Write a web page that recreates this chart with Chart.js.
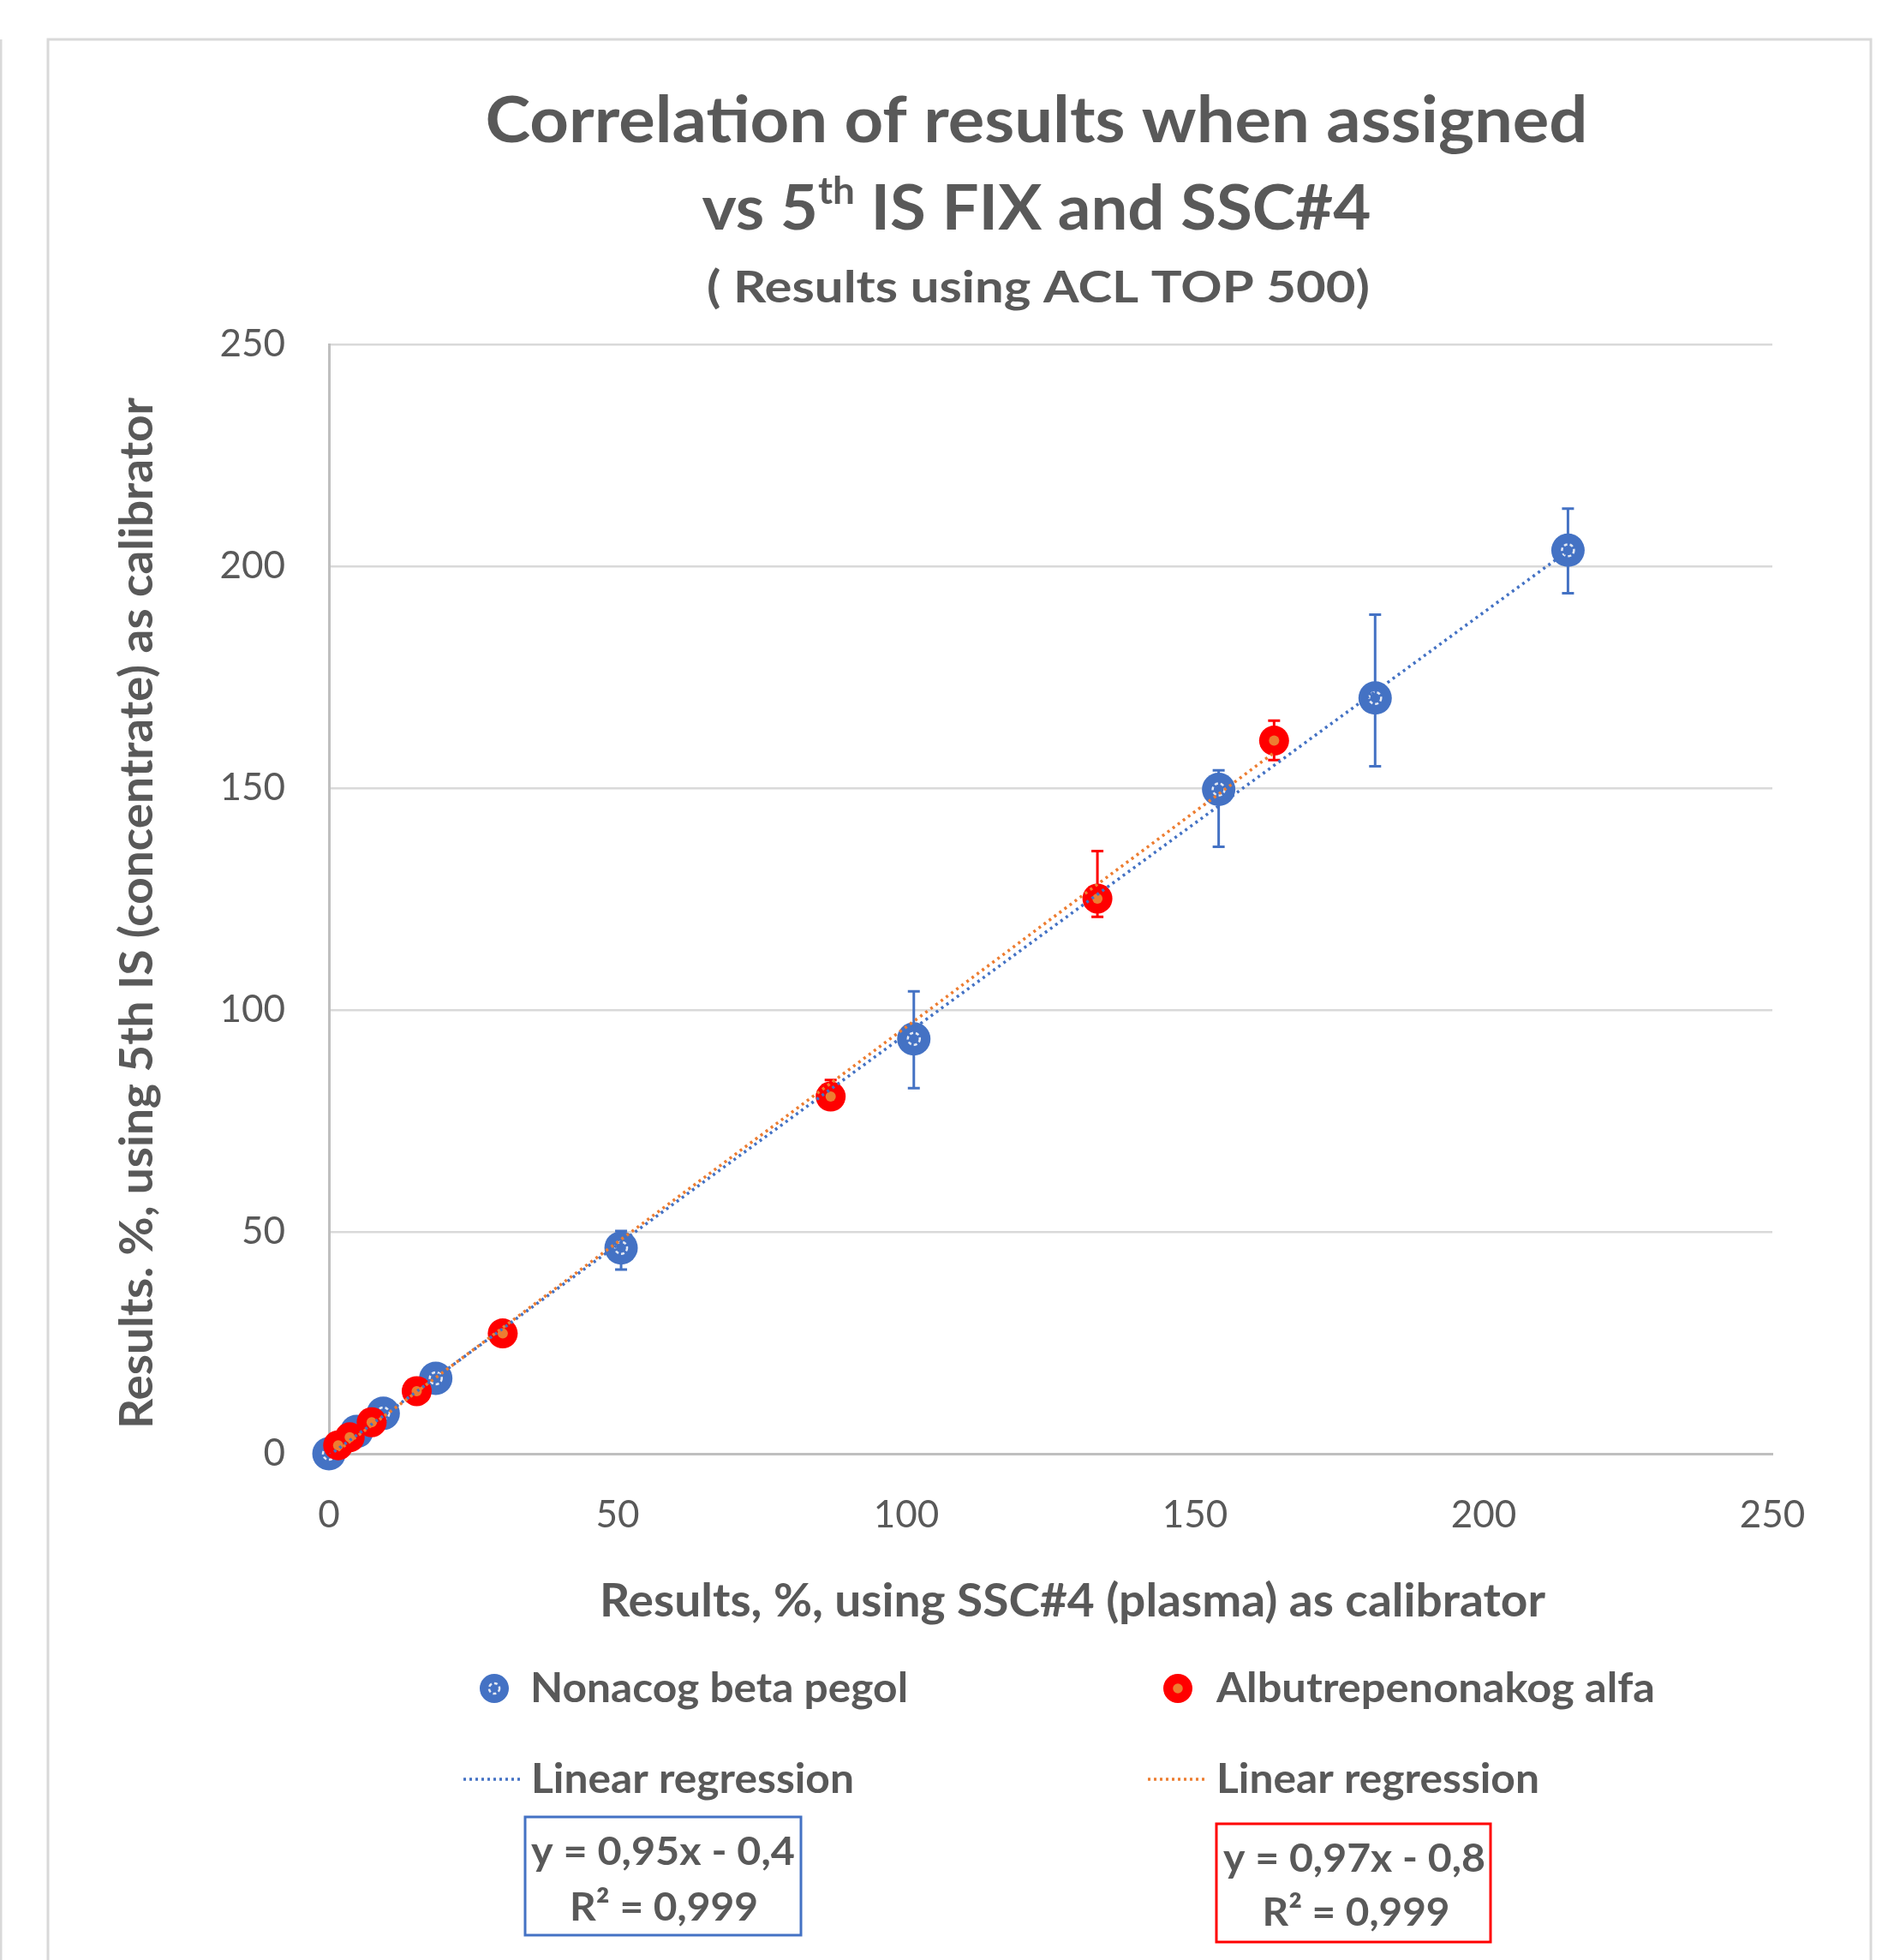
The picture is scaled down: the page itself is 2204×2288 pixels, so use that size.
<!DOCTYPE html>
<html>
<head>
<meta charset="utf-8">
<style>
  html, body { margin: 0; padding: 0; background: #fff; }
  canvas { display: block; }
</style>
<script src="https://cdn.jsdelivr.net/npm/chart.js@4.4.1/dist/chart.umd.min.js"></script>
</head>
<body>
<canvas id="chart" width="2204" height="2288" style="width:2204px;height:2288px"></canvas>
<script>
// values
const axisTicks = [0, 50, 100, 150, 200, 250];

const nonacogX = [0, 4.8, 9.4, 18.5, 50.6, 101.3, 154.1, 181.2, 214.6];
const nonacogY = [0, 5.0, 9.1, 17.0, 46.4, 93.5, 149.7, 170.3, 203.6];
const nonacogLow = [0, 5.0, 9.1, 17.0, 41.5, 82.4, 136.8, 154.9, 193.9];
const nonacogHigh = [0, 5.0, 9.1, 17.0, 50.2, 104.2, 154.0, 189.1, 213.0];

const albuX = [1.6, 3.6, 7.4, 15.2, 30.1, 86.9, 133.1, 163.7];
const albuY = [1.9, 3.7, 7.1, 14.1, 27.1, 80.5, 125.1, 160.7];
const albuLow = [1.9, 3.7, 7.1, 14.1, 27.1, 78.6, 121.0, 156.3];
const albuHigh = [1.9, 3.7, 7.1, 14.1, 27.1, 84.2, 135.8, 165.2];

// trend line equations shown on the chart
const nonacogFit = { slope: 0.95, intercept: -0.4, r2: '0,999' };
const albuFit = { slope: 0.97, intercept: -0.8, r2: '0,999' };

const BLUE = '#4472C4';
const RED = '#FF0000';
const ORANGE = '#ED7D31';
const TEXT = '#595959';
const FONT = 'Lato';

const points = (xs, ys) => xs.map((x, i) => ({ x, y: ys[i] }));
const fitLine = (xs, fit) => {
  const lo = Math.min(...xs), hi = Math.max(...xs);
  return [lo, hi].map(x => ({ x, y: fit.slope * x + fit.intercept }));
};

function drawText(ctx, text, x, y, size, weight, align, width) {
  ctx.save();
  ctx.font = `${weight} ${size}px ${FONT}`;
  const w = ctx.measureText(text).width;
  const sx = width ? width / w : 1;
  ctx.translate(x, y);
  ctx.scale(sx, 1);
  ctx.textAlign = align;
  ctx.textBaseline = 'alphabetic';
  ctx.fillStyle = TEXT;
  ctx.fillText(text, 0, 0);
  ctx.restore();
}

function blueMarker(ctx, x, y, r) {
  ctx.save();
  ctx.beginPath();
  ctx.arc(x, y, r, 0, Math.PI * 2);
  ctx.fillStyle = BLUE;
  ctx.fill();
  ctx.beginPath();
  ctx.arc(x, y, r * 0.36, 0, Math.PI * 2);
  ctx.setLineDash([4, 3]);
  ctx.lineWidth = 2.5;
  ctx.strokeStyle = '#E4E9F3';
  ctx.stroke();
  ctx.restore();
}

function redMarker(ctx, x, y, r) {
  ctx.save();
  ctx.beginPath();
  ctx.arc(x, y, r, 0, Math.PI * 2);
  ctx.fillStyle = RED;
  ctx.fill();
  ctx.beginPath();
  ctx.arc(x, y, r * 0.34, 0, Math.PI * 2);
  ctx.fillStyle = ORANGE;
  ctx.fill();
  ctx.restore();
}

const frame = {
  id: 'frame',
  beforeDraw(chart) {
    const ctx = chart.ctx;
    ctx.save();
    ctx.fillStyle = '#fff';
    ctx.fillRect(0, 0, chart.width, chart.height);
    ctx.strokeStyle = '#D9D9D9';
    ctx.lineWidth = 3;
    ctx.strokeRect(56, 46, 2128, 2300);
    ctx.beginPath();
    ctx.moveTo(1, 46);
    ctx.lineTo(1, 2288);
    ctx.stroke();
    ctx.restore();
  }
};

const errorBars = {
  id: 'errorBars',
  beforeDatasetsDraw(chart) {
    const { ctx, scales: { x, y } } = chart;
    const sets = [[nonacogX, nonacogLow, nonacogHigh, BLUE], [albuX, albuLow, albuHigh, RED]];
    ctx.save();
    ctx.lineWidth = 3;
    sets.forEach(([xs, lo, hi, color]) => {
      ctx.strokeStyle = color;
      xs.forEach((v, i) => {
        if (hi[i] === lo[i]) return;
        const px = x.getPixelForValue(v);
        const y1 = y.getPixelForValue(lo[i]);
        const y2 = y.getPixelForValue(hi[i]);
        ctx.beginPath();
        ctx.moveTo(px, y1); ctx.lineTo(px, y2);
        ctx.moveTo(px - 7, y1); ctx.lineTo(px + 7, y1);
        ctx.moveTo(px - 7, y2); ctx.lineTo(px + 7, y2);
        ctx.stroke();
      });
    });
    ctx.restore();
  }
};

const markerCores = {
  id: 'markerCores',
  afterDatasetDraw(chart, args) {
    const ds = chart.data.datasets[args.index];
    if (!ds.core) return;
    const ctx = chart.ctx;
    args.meta.data.forEach(pt => {
      ctx.save();
      ctx.beginPath();
      if (ds.core === 'blue') {
        ctx.arc(pt.x, pt.y, 7, 0, Math.PI * 2);
        ctx.setLineDash([4, 3]);
        ctx.lineWidth = 2.5;
        ctx.strokeStyle = '#E4E9F3';
        ctx.stroke();
      } else {
        ctx.arc(pt.x, pt.y, 6, 0, Math.PI * 2);
        ctx.fillStyle = ORANGE;
        ctx.fill();
      }
      ctx.restore();
    });
  }
};

const decor = {
  id: 'decor',
  afterDraw(chart) {
    const ctx = chart.ctx;

    // title
    drawText(ctx, 'Correlation of results when assigned', 1210, 166, 75, 'bold', 'center', 1287);
    ctx.save();
    const big = 73, small = 44;
    ctx.font = `bold ${big}px ${FONT}`;
    const a = 'vs 5', b = ' IS FIX and SSC#4';
    const wa = ctx.measureText(a).width, wb = ctx.measureText(b).width;
    ctx.font = `bold ${small}px ${FONT}`;
    const ws = ctx.measureText('th').width;
    const sx = 781 / (wa + ws + wb);
    ctx.translate(1210 - 781 / 2, 268);
    ctx.scale(sx, 1);
    ctx.fillStyle = TEXT;
    ctx.textBaseline = 'alphabetic';
    ctx.textAlign = 'left';
    ctx.font = `bold ${big}px ${FONT}`;
    ctx.fillText(a, 0, 0);
    ctx.fillText(b, wa + ws, 0);
    ctx.font = `bold ${small}px ${FONT}`;
    ctx.fillText('th', wa, -30);
    ctx.restore();
    drawText(ctx, '( Results using ACL TOP 500)', 1212, 353, 51, 'bold', 'center', 774);

    // axis titles
    drawText(ctx, 'Results, %, using SSC#4 (plasma) as calibrator', 1252, 1887, 54, 'bold', 'center', 1104);
    ctx.save();
    ctx.translate(178, 1066);
    ctx.rotate(-Math.PI / 2);
    drawText(ctx, 'Results. %, using 5th IS (concentrate) as calibrator', 0, 0, 54, 'bold', 'center', 1204);
    ctx.restore();

    // legend
    blueMarker(ctx, 577, 1971, 17);
    drawText(ctx, 'Nonacog beta pegol', 619, 1987, 48, 'bold', 'left', 441);
    redMarker(ctx, 1375, 1971, 17);
    drawText(ctx, 'Albutrepenonakog alfa', 1420, 1987, 48, 'bold', 'left', 512);

    ctx.save();
    ctx.lineWidth = 3.5;
    ctx.setLineDash([3, 4]);
    ctx.strokeStyle = BLUE;
    ctx.beginPath(); ctx.moveTo(541, 2077); ctx.lineTo(607, 2077); ctx.stroke();
    ctx.strokeStyle = ORANGE;
    ctx.beginPath(); ctx.moveTo(1340, 2077); ctx.lineTo(1407, 2077); ctx.stroke();
    ctx.restore();
    drawText(ctx, 'Linear regression', 620, 2093, 48, 'bold', 'left', 377);
    drawText(ctx, 'Linear regression', 1420, 2093, 48, 'bold', 'left', 377);

    // equation boxes
    const eq = f => `y = ${f.slope.toFixed(2).replace('.', ',')}x - ${Math.abs(f.intercept).toFixed(1).replace('.', ',')}`;
    ctx.save();
    ctx.lineWidth = 3;
    ctx.strokeStyle = BLUE;
    ctx.strokeRect(613, 2121, 322, 138);
    ctx.strokeStyle = RED;
    ctx.strokeRect(1420, 2129, 320, 138);
    ctx.restore();
    drawText(ctx, eq(nonacogFit), 774, 2177, 46, 'bold', 'center', 308);
    drawText(ctx, 'R\u00B2 = ' + nonacogFit.r2, 775, 2242, 46, 'bold', 'center', 220);
    drawText(ctx, eq(albuFit), 1581, 2185, 46, 'bold', 'center', 306);
    drawText(ctx, 'R\u00B2 = ' + albuFit.r2, 1583, 2248, 46, 'bold', 'center', 219);
  }
};

const tickFont = { family: FONT, size: 44 };

new Chart(document.getElementById('chart'), {
  type: 'scatter',
  data: {
    datasets: [
      {
        label: 'Linear regression',
        type: 'line',
        data: fitLine(albuX, albuFit),
        borderColor: ORANGE,
        borderWidth: 3.5,
        borderDash: [3, 4.5],
        pointRadius: 0,
        fill: false,
        order: 1
      },
      {
        label: 'Linear regression',
        type: 'line',
        data: fitLine(nonacogX, nonacogFit),
        borderColor: BLUE,
        borderWidth: 3.5,
        borderDash: [3, 4.5],
        pointRadius: 0,
        fill: false,
        order: 2
      },
      {
        label: 'Albutrepenonakog alfa',
        data: points(albuX, albuY),
        backgroundColor: RED,
        borderWidth: 0,
        pointRadius: 17.5,
        clip: false,
        core: 'red',
        order: 3
      },
      {
        label: 'Nonacog beta pegol',
        data: points(nonacogX, nonacogY),
        backgroundColor: BLUE,
        borderWidth: 0,
        pointRadius: 19.5,
        clip: false,
        core: 'blue',
        order: 4
      }
    ]
  },
  options: {
    responsive: false,
    animation: false,
    devicePixelRatio: 1,
    layout: { padding: { top: 402, right: 135, bottom: 491, left: 0 } },
    plugins: {
      legend: { display: false },
      title: { display: false },
      tooltip: { enabled: false }
    },
    scales: {
      x: {
        type: 'linear',
        min: 0,
        max: 250,
        afterBuildTicks: s => { s.ticks = axisTicks.map(v => ({ value: v })); },
        ticks: { font: tickFont, color: TEXT, padding: 45 },
        grid: { display: false, drawTicks: false },
        border: { color: '#BFBFBF', width: 3 },
        afterFit: s => { s.height = 100; }
      },
      y: {
        type: 'linear',
        min: 0,
        max: 250,
        afterBuildTicks: s => { s.ticks = axisTicks.map(v => ({ value: v })); },
        ticks: { font: tickFont, color: TEXT, padding: 51 },
        grid: { color: '#D9D9D9', lineWidth: 2.5, drawTicks: false },
        border: { color: '#BFBFBF', width: 3 },
        afterFit: s => { s.width = 384; }
      }
    }
  },
  plugins: [frame, errorBars, markerCores, decor]
});
</script>
</body>
</html>
